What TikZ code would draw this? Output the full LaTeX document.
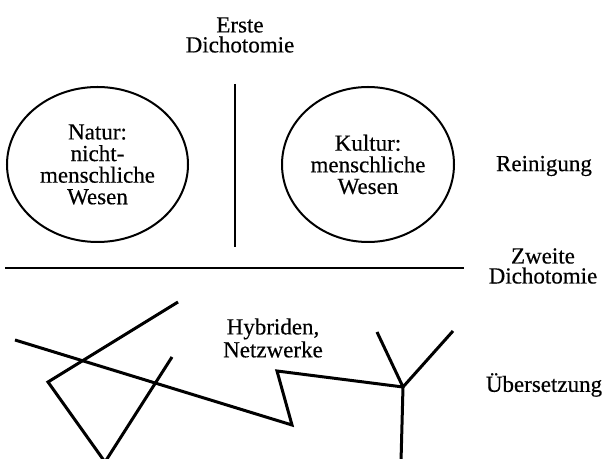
\documentclass[tikz,border=0pt]{standalone}
\usepackage{fontspec}
\setmainfont{Liberation Serif}[FakeBold=0.4]
\usepackage{tikz}
\usetikzlibrary{shapes.geometric}

\begin{document}
\begin{tikzpicture}[x=0.5pt, y=-0.5pt,
	lbl/.style={align=center, font=\fontsize{11.5}{10}\selectfont},
	sphere/.style={shape=ellipse, draw=black, line width=1pt, inner sep=0pt, minimum height=77.5pt, align=center, font=\fontsize{11.5}{10.8}\selectfont},
	net/.style={line width=1.5pt, line join=miter}]
	
	\useasboundingbox (0, 0) rectangle (606, 459);
	
	\node[lbl] (erste) at (240, 35) {Erste\\Dichotomie};
	\node[sphere, minimum width=90.5pt] (natur) at (97.5, 164.5) {Natur:\\nicht-\\menschliche\\Wesen};
	\node[sphere, minimum width=86pt] (kultur) at (368, 164.5) {Kultur:\\menschliche\\Wesen};
	\node[lbl] (reinigung) at (544, 166) {Reinigung};
	\node[lbl] (zweite) at (543, 266) {Zweite\\Dichotomie};
	\node[lbl] (hybriden) at (273, 338) {Hybriden,\\Netzwerke};
	\node[lbl] (uebersetzung) at (544, 385) {Übersetzung};
	
	% die beiden Dichotomien
	\coordinate (v1) at (235, 84);
	\coordinate (v2) at (235, 247);
	\coordinate (h1) at (5, 268);
	\coordinate (h2) at (464, 268);
	\draw[line width=1pt] (v1) -- (v2);
	\draw[line width=1.2pt] (h1) -- (h2);
	
	% Netzwerke
	\coordinate (a1) at (15, 340);
	\coordinate (a2) at (292, 425);
	\coordinate (a3) at (277, 371);
	\coordinate (knot) at (403, 387);
	\coordinate (y1) at (377, 332);
	\coordinate (y2) at (453, 331);
	\coordinate (y3) at (401, 462);
	\coordinate (b1) at (178, 302);
	\coordinate (b2) at (48, 382);
	\coordinate (b3) at (105, 462);
	\coordinate (b4) at (172, 357);
	
	\draw[net] (a1) -- (a2) -- (a3) -- (knot);
	\draw[net] (y1) -- (knot) -- (y2);
	\draw[net] (knot) -- (y3);
	\draw[net] (b1) -- (b2) -- (b3) -- (b4);
	
\end{tikzpicture}
\end{document}
